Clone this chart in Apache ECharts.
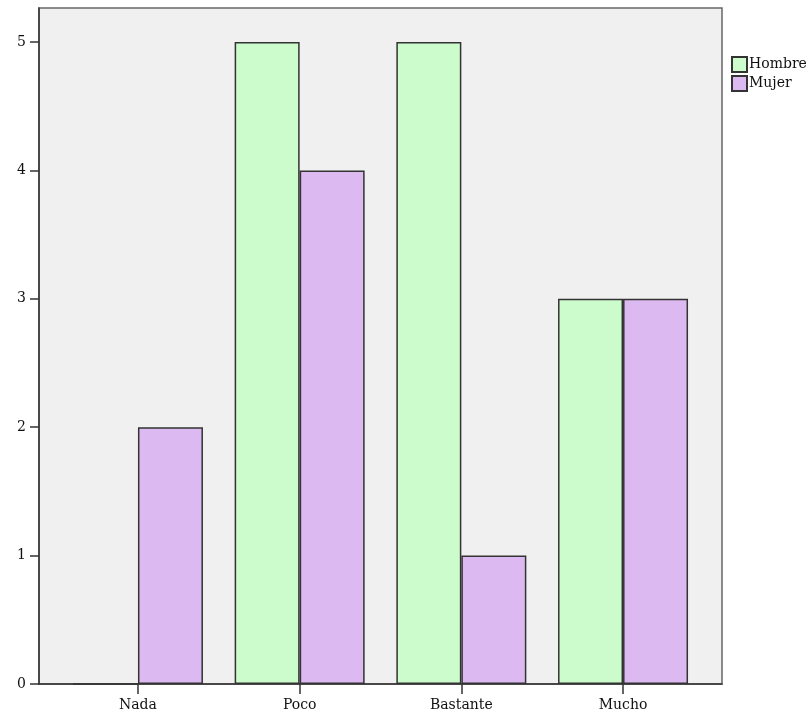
<!DOCTYPE html>
<html>
<head>
<meta charset="utf-8">
<script src="https://cdn.jsdelivr.net/npm/echarts@6/dist/echarts.min.js"></script>
<style>html,body{margin:0;padding:0;background:#fff}#c{width:810px;height:716px}</style>
</head>
<body>
<div id="c"></div>
<script>
const categories = ['Nada', 'Poco', 'Bastante', 'Mucho'];
const hombre = [0, 5, 5, 3];
const mujer = [2, 4, 1, 3];
const yTicks = [0, 1, 2, 3, 4, 5];
const seriesNames = ['Hombre', 'Mujer'];

const font = 'DejaVu Serif';
const chart = echarts.init(document.getElementById('c'));
chart.setOption({
  backgroundColor: '#ffffff',
  animation: false,
  grid: {
    left: 39, right: 88, top: 8, bottom: 32,
    show: true, backgroundColor: '#f0f0f0', borderColor: '#666', borderWidth: 1.5
  },
  legend: {
    orient: 'vertical', left: 726, top: 51,
    itemWidth: 15, itemHeight: 15, itemGap: 2,
    icon: 'rect',
    data: seriesNames,
    textStyle: { fontFamily: font, fontSize: 14, color: '#111', padding: [0, 0, 0, -3] }
  },
  xAxis: {
    type: 'value', min: -0.612, max: 3.612,
    splitLine: { show: false },
    axisLine: { show: true, onZero: false, lineStyle: { color: '#333', width: 1.5 } },
    axisTick: { show: true, length: 10, customValues: categories.map((c, i) => i), lineStyle: { color: '#333', width: 1.5 } },
    axisLabel: {
      customValues: categories.map((c, i) => i),
      formatter: v => categories[Math.round(v)] || '',
      fontFamily: font, fontSize: 14, color: '#111', margin: 14
    }
  },
  yAxis: {
    type: 'value', min: 0, max: 5.265,
    splitLine: { show: false },
    axisLine: { show: true, onZero: false, lineStyle: { color: '#333', width: 1.5 } },
    axisTick: { show: true, length: 9, customValues: yTicks, lineStyle: { color: '#333', width: 1.5 } },
    axisLabel: { customValues: yTicks, fontFamily: font, fontSize: 14, color: '#111', margin: 13 }
  },
  series: [
    {
      name: seriesNames[0], type: 'bar', barWidth: 65, barGap: '0%',
      data: hombre.map((v, i) => [i, v]),
      itemStyle: { color: '#ccfccc', borderColor: '#333', borderWidth: 1.5 }
    },
    {
      name: seriesNames[1], type: 'bar', barWidth: 65, barGap: '0%',
      data: mujer.map((v, i) => [i, v]),
      itemStyle: { color: '#dcb9f0', borderColor: '#333', borderWidth: 1.5 }
    }
  ]
});
</script>
</body>
</html>
